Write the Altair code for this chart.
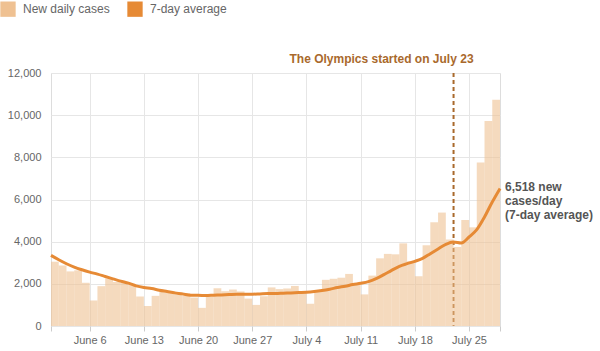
import altair as alt
import pandas as pd

# ---- data ----
first_day = "2021-06-01"
last_day = "2021-07-29"
olympics_day = "2021-07-23"

# new daily cases, reported June 2 .. July 29 (bar spans the day before the report)
new_cases = [3050, 2870, 2590, 2640, 2050, 1210, 1890, 2250, 2090, 2050,
             1950, 1400, 950, 1430, 1670, 1640, 1590, 1560, 1350, 860,
             1400, 1790, 1650, 1730, 1640, 1300, 1000, 1410, 1830, 1750,
             1780, 1900, 1570, 1050, 1680, 2190, 2240, 2290, 2470, 2000,
             1500, 2390, 3210, 3420, 3400, 3920, 3070, 2360, 3830, 4920,
             5380, 4100, 3750, 5030, 4680, 7750, 9720, 10730]

# 7-day average, June 1 .. July 29
avg7 = [3349, 3142, 2952, 2793, 2666, 2555, 2460, 2349, 2238, 2127,
        2031, 1904, 1825, 1777, 1698, 1635, 1571, 1523, 1460, 1460,
        1444, 1460, 1476, 1492, 1508, 1508, 1508, 1523, 1539, 1539,
        1555, 1571, 1587, 1603, 1635, 1682, 1746, 1825, 1889, 1965,
        2024, 2103, 2245, 2435, 2640, 2830, 2956, 3067, 3209, 3431,
        3652, 3873, 3984, 3937, 4221, 4569, 5170, 5881, 6518]

series_names = ["New daily cases", "7-day average"]
y_ticks = [0, 2000, 4000, 6000, 8000, 10000, 12000]
x_tick_days = [(6, 1), (6, 6), (6, 13), (6, 20), (6, 27), (7, 4), (7, 11),
               (7, 18), (7, 25), (7, 29)]
annotation = "The Olympics started on July 23"

# ---- tables ----
days = pd.date_range(first_day, last_day, freq="D")
bars_df = pd.DataFrame({
    "start": days[:-1].strftime("%Y-%m-%d"),
    "end": days[1:].strftime("%Y-%m-%d"),
    "cases": new_cases,
    "series": series_names[0],
})
line_df = pd.DataFrame({"date": days.strftime("%Y-%m-%d"), "avg": avg7})
rule_df = pd.DataFrame({"date": [olympics_day]})
end_df = line_df.tail(1)

# ---- colours ----
bar_col = "#efc192"
line_col = "#e68a35"
brown = "#a9692c"
gray = "#666666"

edge_test = "utcdate(datum.value) == 1 || utcdate(datum.value) == 29"

x_scale = alt.Scale(
    type="utc",
    domain=[alt.DateTime(year=2021, month=6, date=1, utc=True),
            alt.DateTime(year=2021, month=7, date=29, utc=True)],
    nice=False,
)
x_axis = alt.Axis(
    values=[alt.DateTime(year=2021, month=m, date=d, utc=True) for m, d in x_tick_days],
    labelExpr=f"({edge_test}) ? '' : utcFormat(datum.value, '%B %-d')",
    gridOpacity={"condition": {"test": edge_test, "value": 0}, "value": 1},
    gridColor="#e6e6e6",
    domain=False, tickColor="#cccccc", tickSize=5,
    labelPadding=3, labelFontSize=11, labelColor=gray,
    labelOverlap=False, labelFlush=False, title=None,
)
y_scale = alt.Scale(domain=[0, 12000], nice=False)
y_axis = alt.Axis(values=y_ticks, format=",d", domain=False, ticks=False,
                  labelPadding=10, labelFontSize=11, labelColor=gray,
                  gridColor="#e6e6e6", title=None)

rule = alt.Chart(rule_df).mark_rule(
    color=brown, strokeWidth=2, strokeDash=[4, 3]
).encode(x=alt.X("date:T", scale=x_scale, axis=x_axis))

bars = alt.Chart(bars_df).mark_bar(opacity=0.6).encode(
    x=alt.X("start:T", scale=x_scale, axis=x_axis),
    x2="end:T",
    y=alt.Y("cases:Q", scale=y_scale, axis=y_axis),
    y2=alt.datum(0),
    color=alt.Color(
        "series:N",
        scale=alt.Scale(domain=series_names, range=[bar_col, line_col]),
        legend=alt.Legend(
            orient="none", legendX=-51, legendY=-72, direction="horizontal",
            title=None, symbolType="square", symbolSize=235,
            symbolStrokeWidth=0, symbolOpacity=1, labelFontSize=12,
            labelColor=gray, labelOffset=7, columnPadding=17, padding=0,
        ),
    ),
)

line = alt.Chart(line_df).mark_line(
    color=line_col, strokeWidth=3, interpolate="monotone"
).encode(
    x=alt.X("date:T", scale=x_scale, axis=x_axis),
    y=alt.Y("avg:Q", scale=y_scale, axis=y_axis),
)

ann = alt.Chart(rule_df).mark_text(
    text=annotation, color=brown, fontSize=12, fontWeight="bold",
    align="right", baseline="alphabetic", dx=20,
).encode(
    x=alt.X("date:T", scale=x_scale, axis=x_axis),
    y=alt.value(-10),
)

end_label = alt.Chart(end_df).mark_text(
    text=[f"{avg7[-1]:,} new", "cases/day", "(7-day average)"],
    color="#555555", fontSize=12, fontWeight="bold",
    align="left", baseline="alphabetic", dx=5, dy=2, lineHeight=14,
).encode(
    x=alt.X("date:T", scale=x_scale, axis=x_axis),
    y=alt.Y("avg:Q", scale=y_scale, axis=y_axis),
)

chart = alt.layer(rule, bars, line, ann, end_label).properties(
    width=449, height=253,
    padding={"left": 51, "top": 73, "right": 100, "bottom": 25},
    autosize=alt.AutoSizeParams(type="none"),
).configure_view(stroke=None).configure(font="Liberation Sans")

chart.save("out.html", embed_options={"renderer": "svg", "actions": False})
